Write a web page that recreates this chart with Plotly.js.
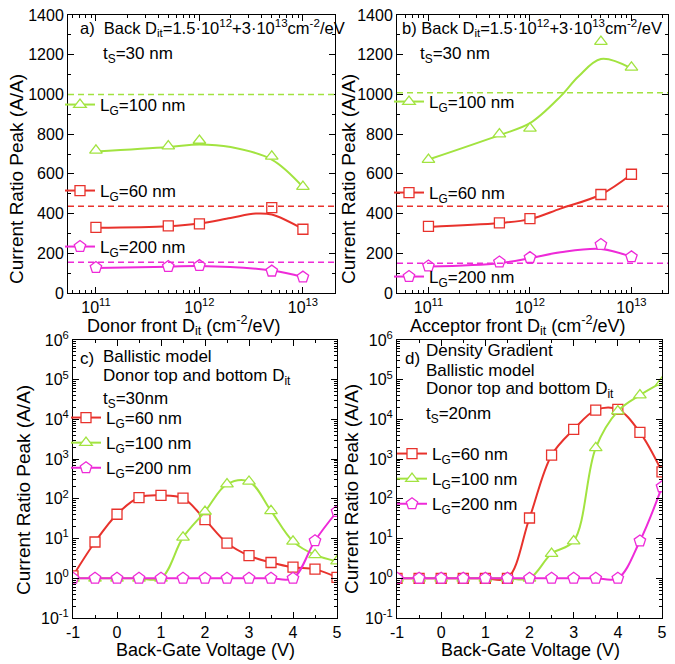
<!DOCTYPE html>
<html><head><meta charset="utf-8">
<script src="https://cdn.plot.ly/plotly-3.0.1.min.js"></script>
<style>html,body{margin:0;padding:0;background:#fff}</style>
</head><body><div id="chart" style="width:675px;height:664px"></div>
<script>
// ---------- data ----------
const ditX = [1e11, 5e11, 1e12, 5e12, 1e13];
// panel a: donor front Dit
const a_LG100 = [718, 740, 768, 688, 536];
const a_LG60 = [330, 338, 348, 430, 321];
const a_LG200 = [128, 133, 138, 110, 80];
const a_fit100X = [1e11, 5e11, 1e12, 2e12, 5e12, 1e13];
const a_fit100 = [712, 735, 748, 735, 672, 534];
const a_fit60X = [1e11, 5e11, 1e12, 2e12, 3.5e12, 5e12, 1e13];
const a_fit60 = [328, 336, 350, 378, 400, 395, 322];
const a_fit200X = [1e11, 5e11, 1e12, 5e12, 1e13];
const a_fit200 = [126, 132, 136, 113, 80];
const a_ref = [1000, 437, 155];   // dashed levels: LG=100, 60, 200
// panel b: acceptor front Dit
const b_LG100 = [672, 800, 829, 1266, 1136];
const b_LG60 = [336, 353, 375, 496, 598];
const b_LG200 = [136, 156, 178, 244, 182];
const b_fit100X = [1e11, 5e11, 1e12, 2e12, 3e12, 5e12, 1e13];
const b_fit100 = [672, 795, 855, 990, 1090, 1178, 1131];
const b_fit60X = [1e11, 5e11, 1e12, 2e12, 5e12, 1e13];
const b_fit60 = [333, 352, 372, 425, 496, 598];
const b_fit200X = [1e11, 5e11, 1e12, 2e12, 5e12, 1e13];
const b_fit200 = [133, 150, 175, 205, 222, 182];
const b_ref = [1008, 437, 150];
// panels c, d: back-gate voltage sweeps
const vbg = [-1, -0.5, 0, 0.5, 1, 1.5, 2, 2.5, 3, 3.5, 4, 4.5, 5];
const c_LG60 = [1.15, 8.2, 41, 108, 122, 104, 30, 7.7, 3.7, 2.5, 1.9, 1.7, 1.05];
const c_LG100 = [1, 1, 1, 1, 1, 10.7, 48, 235, 274, 50, 8.5, 3.9, 2.7];
const c_LG200 = [1, 1, 1, 1, 1, 1, 1, 1, 1, 1, 1, 8.8, 48];
const d_LG60 = [1, 1, 1, 1, 1, 1, 33, 1260, 5600, 17200, 17900, 4700, 480];
const d_LG100 = [1, 1, 1, 1, 1, 1, 1, 4.2, 8.6, 1930, 16200, 41000, 86000];
const d_LG200 = [1, 1, 1, 1, 1, 1, 1, 1, 1, 1, 1, 8.7, 200];

const names = {lg60: 'L<sub>G</sub>=60 nm', lg100: 'L<sub>G</sub>=100 nm', lg200: 'L<sub>G</sub>=200 nm'};
const ditTickVals = [1e11, 1e12, 1e13];
const ditTickText = ['10<sup>11</sup>', '10<sup>12</sup>', '10<sup>13</sup>'];
const logTickVals = [0.1, 1, 10, 100, 1e3, 1e4, 1e5, 1e6];
const logTickText = ['10<sup>-1</sup>', '10<sup>0</sup>', '10<sup>1</sup>', '10<sup>2</sup>', '10<sup>3</sup>', '10<sup>4</sup>', '10<sup>5</sup>', '10<sup>6</sup>'];
const vTickVals = [-1, 0, 1, 2, 3, 4, 5];
const vTickText = ['-1', '0', '1', '2', '3', '4', '5'];

// ---------- styles ----------
const W = 675, H = 664;
const px = v => v / W, py = v => 1 - v / H;
const GREEN = '#a2e340', RED = '#e8322c', MAG = '#ee2ad8';
const SYM = {lg60: 'square', lg100: 'triangle-up', lg200: 'pentagon'};
const COL = {lg60: RED, lg100: GREEN, lg200: MAG};
const MS = {lg60: 10, lg100: 11, lg200: 12};
const FONT = 'Liberation Sans, Arial, sans-serif';

function marker(k) { return {symbol: SYM[k], size: MS[k], color: '#fff', line: {color: COL[k], width: 1.3}}; }
const traces = [];
function fitLine(x, y, k, xa, ya) {
  traces.push({x, y, xaxis: xa, yaxis: ya, mode: 'lines', line: {color: COL[k], width: 2, shape: 'spline', smoothing: 1}, showlegend: false, hoverinfo: 'skip'});
}
function pts(x, y, k, xa, ya) {
  traces.push({x, y, xaxis: xa, yaxis: ya, mode: 'markers', marker: marker(k), showlegend: false, cliponaxis: true});
}
function proxy(k, xa, ya, leg) {
  traces.push({x: [null], y: [null], xaxis: xa, yaxis: ya, mode: 'lines+markers', name: names[k], legend: leg,
    line: {color: COL[k], width: 2}, marker: marker(k)});
}
function full(x, y, k, xa, ya, leg) {
  traces.push({x, y, xaxis: xa, yaxis: ya, mode: 'lines+markers', name: names[k], legend: leg,
    line: {color: COL[k], width: 2, shape: 'spline', smoothing: 1}, marker: marker(k), cliponaxis: true});
}

// panel a
fitLine(a_fit100X, a_fit100, 'lg100', 'x', 'y');
fitLine(a_fit60X, a_fit60, 'lg60', 'x', 'y');
fitLine(a_fit200X, a_fit200, 'lg200', 'x', 'y');
pts(ditX, a_LG100, 'lg100', 'x', 'y');
pts(ditX, a_LG60, 'lg60', 'x', 'y');
pts(ditX, a_LG200, 'lg200', 'x', 'y');
proxy('lg100', 'x', 'y', 'legend');
proxy('lg60', 'x', 'y', 'legend2');
proxy('lg200', 'x', 'y', 'legend3');
// panel b
fitLine(b_fit100X, b_fit100, 'lg100', 'x2', 'y2');
fitLine(b_fit60X, b_fit60, 'lg60', 'x2', 'y2');
fitLine(b_fit200X, b_fit200, 'lg200', 'x2', 'y2');
pts(ditX, b_LG100, 'lg100', 'x2', 'y2');
pts(ditX, b_LG60, 'lg60', 'x2', 'y2');
pts(ditX, b_LG200, 'lg200', 'x2', 'y2');
proxy('lg100', 'x2', 'y2', 'legend4');
proxy('lg60', 'x2', 'y2', 'legend5');
proxy('lg200', 'x2', 'y2', 'legend6');
// panel c
full(vbg, c_LG60, 'lg60', 'x3', 'y3', 'legend7');
full(vbg, c_LG100, 'lg100', 'x3', 'y3', 'legend7');
full(vbg, c_LG200, 'lg200', 'x3', 'y3', 'legend7');
// panel d
full(vbg, d_LG60, 'lg60', 'x4', 'y4', 'legend8');
full(vbg, d_LG100, 'lg100', 'x4', 'y4', 'legend8');
full(vbg, d_LG200, 'lg200', 'x4', 'y4', 'legend8');

// ---------- axes ----------
const baseAx = {showline: true, linecolor: '#000', linewidth: 1, mirror: 'ticks', ticks: 'inside', ticklen: 6,
  tickwidth: 1, tickcolor: '#000', showgrid: false, zeroline: false, tickfont: {size: 16, color: '#000', family: FONT}};
function ax(o) { return Object.assign({}, baseAx, o); }
const logMinor = {ticks: 'inside', ticklen: 3, dtick: 'D1', tickcolor: '#000'};

const domA = [px(68), px(335)], domB = [px(397), px(668)];
const domC = [px(73), px(337)], domD = [px(397), px(662)];
const domTop = [py(293), py(15)], domBot = [py(618), py(340)];

const layout = {
  width: W, height: H, margin: {l: 0, r: 0, t: 0, b: 0}, paper_bgcolor: '#fff', plot_bgcolor: '#fff',
  font: {family: FONT, size: 17, color: '#000'}, hovermode: false,
  xaxis: ax({type: 'log', domain: domA, anchor: 'y', range: [10.73, 13.31], tickmode: 'array', tickvals: ditTickVals, ticktext: ditTickText, minor: logMinor}),
  yaxis: ax({domain: domTop, anchor: 'x', range: [0, 1400], dtick: 200, minor: {ticks: 'inside', ticklen: 3, dtick: 100, tickcolor: '#000'}}),
  xaxis2: ax({type: 'log', domain: domB, anchor: 'y2', range: [10.69, 13.36], tickmode: 'array', tickvals: ditTickVals, ticktext: ditTickText, minor: logMinor}),
  yaxis2: ax({domain: domTop, anchor: 'x2', range: [0, 1400], dtick: 200, minor: {ticks: 'inside', ticklen: 3, dtick: 100, tickcolor: '#000'}}),
  xaxis3: ax({domain: domC, anchor: 'y3', range: [-1, 5], tickmode: 'array', tickvals: vTickVals, ticktext: vTickText, minor: {ticks: 'inside', ticklen: 3, dtick: 0.5, tick0: 0, tickcolor: '#000'}}),
  yaxis3: ax({type: 'log', domain: domBot, anchor: 'x3', range: [-1, 6], tickmode: 'array', tickvals: logTickVals, ticktext: logTickText, minor: logMinor}),
  xaxis4: ax({domain: domD, anchor: 'y4', range: [-1, 5], tickmode: 'array', tickvals: vTickVals, ticktext: vTickText, minor: {ticks: 'inside', ticklen: 3, dtick: 0.5, tick0: 0, tickcolor: '#000'}}),
  yaxis4: ax({type: 'log', domain: domBot, anchor: 'x4', range: [-1, 6], tickmode: 'array', tickvals: logTickVals, ticktext: logTickText, minor: logMinor}),
  shapes: [],
  annotations: []
};

// dashed reference levels
const refKeys = ['lg100', 'lg60', 'lg200'];
a_ref.forEach((v, i) => layout.shapes.push({type: 'line', xref: 'x domain', yref: 'y', x0: 0, x1: 1, y0: v, y1: v, line: {color: COL[refKeys[i]], width: 1.5, dash: '6px,4px'}}));
b_ref.forEach((v, i) => layout.shapes.push({type: 'line', xref: 'x2 domain', yref: 'y2', x0: 0, x1: 1, y0: v, y1: v, line: {color: COL[refKeys[i]], width: 1.5, dash: '6px,4px'}}));

// legends
function leg(xText, yc) {
  return {x: px(xText - 40), y: py(yc), xanchor: 'left', yanchor: 'middle', bgcolor: 'rgba(0,0,0,0)', borderwidth: 0,
    font: {size: 17, family: FONT, color: '#000'}, itemwidth: 30, tracegroupgap: 0, itemclick: false, itemdoubleclick: false};
}
layout.legend = leg(100, 105);
layout.legend2 = leg(100, 191);
layout.legend3 = leg(100, 247);
layout.legend4 = leg(429, 102);
layout.legend5 = leg(429, 193);
layout.legend6 = leg(429, 277);
layout.legend7 = leg(106, 443);
layout.legend8 = leg(432, 479);

// annotations
function note(text, x, y, opts) {
  layout.annotations.push(Object.assign({text, x: px(x), y: py(y), xref: 'paper', yref: 'paper', xanchor: 'left', yanchor: 'middle', showarrow: false, font: {size: 17, family: FONT, color: '#000'}}, opts || {}));
}
const backDit = 'Back D<sub>it</sub>=1.5·10<sup>12</sup>+3·10<sup>13</sup>cm<sup>-2</sup>/eV';
const smallFont = {size: 16.5, family: FONT, color: '#000'};
note('a)  ' + backDit, 78, 28, {font: smallFont});
note('t<sub>S</sub>=30 nm', 101, 55);
note('b) ' + backDit, 400, 28, {font: smallFont});
note('t<sub>S</sub>=30 nm', 418, 55);
note('c)', 78, 358);
note('Ballistic model', 101, 356);
note('Donor top and bottom D<sub>it</sub>', 101, 377);
note('t<sub>S</sub>=30nm', 101, 400);
note('d)', 403, 358);
note('Density Gradient', 424, 350);
note('Ballistic model', 424, 370);
note('Donor top and bottom D<sub>it</sub>', 424, 390);
note('t<sub>S</sub>=20nm', 424, 415);
// axis titles
const titleFont = {size: 19, family: FONT, color: '#000'};
const yTitle = 'Current Ratio Peak (A/A)';
note(yTitle, 16, 179, {xanchor: 'center', textangle: -90, font: titleFont});
note(yTitle, 348, 179, {xanchor: 'center', textangle: -90, font: titleFont});
note(yTitle, 23, 490, {xanchor: 'center', textangle: -90, font: titleFont});
note(yTitle, 351, 489, {xanchor: 'center', textangle: -90, font: titleFont});
note('Donor front D<sub>it</sub> (cm<sup>-2</sup>/eV)', 184, 325, {xanchor: 'center', font: {size: 18, family: FONT, color: '#000'}});
note('Acceptor front D<sub>it</sub> (cm<sup>-2</sup>/eV)', 518, 325, {xanchor: 'center', font: {size: 18, family: FONT, color: '#000'}});
note('Back-Gate Voltage (V)', 205, 650, {xanchor: 'center', font: {size: 18, family: FONT, color: '#000'}});
note('Back-Gate Voltage (V)', 530, 650, {xanchor: 'center', font: {size: 18, family: FONT, color: '#000'}});

Plotly.newPlot('chart', traces, layout, {staticPlot: true, displayModeBar: false});
</script></body></html>
